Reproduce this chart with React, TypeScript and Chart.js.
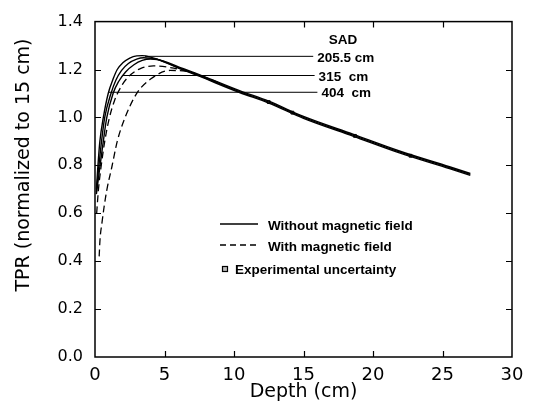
import React, { useEffect, useRef } from "react";
import { Chart, registerables } from "chart.js";

Chart.register(...registerables);

// ---- Data ----
// Without magnetic field (solid)
const depthSolidA = [0.1, 0.2, 0.35, 0.6, 0.95, 1.3, 1.6, 2.0, 2.5, 3.0, 3.4, 4.0, 5.0, 6.0, 7.5, 10.4, 12.5, 15, 18.6, 21.9, 25.5, 27.0];
const tprSolidA = [0.70, 0.79, 0.90, 1.00, 1.10, 1.16, 1.20, 1.228, 1.248, 1.257, 1.258, 1.252, 1.232, 1.208, 1.175, 1.108, 1.064, 1.0, 0.925, 0.856, 0.79, 0.762];
const depthSolidB = [0.1, 0.25, 0.45, 0.7, 1.15, 1.5, 1.9, 2.4, 3.0, 3.5, 4.0, 5.0, 6.0, 7.5, 10.4, 12.5, 15, 18.6, 21.9, 25.5, 27.0];
const tprSolidB = [0.69, 0.78, 0.89, 1.00, 1.10, 1.155, 1.195, 1.225, 1.243, 1.249, 1.247, 1.234, 1.211, 1.179, 1.112, 1.068, 1.004, 0.929, 0.860, 0.794, 0.766];
const depthSolidC = [0.1, 0.3, 0.55, 0.85, 1.3, 1.7, 2.2, 2.8, 3.4, 4.0, 4.5, 5.0, 6.0, 7.5, 10.4, 12.5, 15, 18.6, 21.9, 25.5, 27.0];
const tprSolidC = [0.68, 0.77, 0.88, 1.00, 1.10, 1.15, 1.19, 1.22, 1.238, 1.244, 1.242, 1.231, 1.206, 1.172, 1.104, 1.060, 0.996, 0.921, 0.852, 0.786, 0.758];
// With magnetic field (dashed)
const depthDashed1 = [0.3, 0.36, 0.5, 0.65, 0.86, 1.2, 1.6, 2.1, 3.0, 4.0, 5.4, 6.5, 7.5, 9.0];
const tprDashed1 = [0.42, 0.49, 0.56, 0.625, 0.70, 0.79, 0.90, 0.99, 1.10, 1.16, 1.196, 1.193, 1.176, 1.143];
const depthDashed2 = [0.12, 0.25, 0.45, 0.7, 1.0, 1.4, 2.0, 2.6, 3.3, 4.2, 5.2, 6.5, 7.5];
const tprDashed2 = [0.60, 0.70, 0.80, 0.90, 0.99, 1.07, 1.14, 1.18, 1.205, 1.215, 1.21, 1.195, 1.176];
// Experimental uncertainty boxes
const depthExp = [12.5, 14.2, 18.7, 22.7];
const tprExp = [1.064, 1.02, 0.923, 0.84];
// SAD leader lines
const sadLabels = ["205.5 cm", "315  cm", "404  cm"];
const sadLevels = [1.255, 1.175, 1.105];
const sadStart = [3.6, 2.0, 0.95];
const sadEnd = [15.7, 15.8, 16.0];
// Ticks
const xTickLabels = ["0", "5", "10", "15", "20", "25", "30"];
const yTickLabels = ["0.0", "0.2", "0.4", "0.6", "0.8", "1.0", "1.2", "1.4"];
const xTickValues = [5, 10, 15, 20, 25];
const yTickValues = [0.2, 0.4, 0.6, 0.8, 1.0, 1.2];
const legendLabels = ["Without magnetic field", "With magnetic field", "Experimental uncertainty"];

const pts = (xs: number[], ys: number[]) => xs.map((x, i) => ({ x, y: ys[i] }));

const AXIS_FONT = "'DejaVu Sans', sans-serif";
const LABEL_FONT = "'Liberation Sans', Arial, sans-serif";

const overlayPlugin = {
  id: "overlay",
  afterDraw(chart: any) {
    const { ctx, chartArea, scales } = chart;
    const xs = scales.x;
    const ys = scales.y;
    ctx.save();
    ctx.strokeStyle = "#000";
    ctx.fillStyle = "#000";
    // frame
    ctx.lineWidth = 1.5;
    ctx.strokeRect(chartArea.left, chartArea.top, chartArea.right - chartArea.left, chartArea.bottom - chartArea.top);
    // inward ticks on all four sides
    ctx.lineWidth = 1.2;
    const tl = 6;
    ctx.beginPath();
    xTickValues.forEach((v) => {
      const px = Math.round(xs.getPixelForValue(v)) + 0.5;
      ctx.moveTo(px, chartArea.bottom);
      ctx.lineTo(px, chartArea.bottom - tl);
      ctx.moveTo(px, chartArea.top);
      ctx.lineTo(px, chartArea.top + tl);
    });
    yTickValues.forEach((v) => {
      const py = Math.round(ys.getPixelForValue(v)) + 0.5;
      ctx.moveTo(chartArea.left, py);
      ctx.lineTo(chartArea.left + tl, py);
      ctx.moveTo(chartArea.right, py);
      ctx.lineTo(chartArea.right - tl, py);
    });
    ctx.stroke();

    // y axis title
    ctx.save();
    ctx.translate(24, 165);
    ctx.rotate(-Math.PI / 2);
    ctx.font = `19px ${AXIS_FONT}`;
    ctx.textAlign = "center";
    ctx.textBaseline = "middle";
    ctx.fillText("TPR (normalized to 15 cm)", 0, 0);
    ctx.restore();

    // SAD labels
    ctx.font = `bold 13.5px ${LABEL_FONT}`;
    ctx.textBaseline = "middle";
    ctx.textAlign = "center";
    ctx.fillText("SAD", 343, 40);
    ctx.textAlign = "left";
    sadLabels.forEach((lab, i) => {
      const py = ys.getPixelForValue(sadLevels[i]);
      const px = xs.getPixelForValue(sadEnd[i]) + 4;
      ctx.fillText(lab, px, py + 1.5);
    });

    // legend
    ctx.lineWidth = 1.5;
    ctx.beginPath();
    ctx.moveTo(220, 224);
    ctx.lineTo(258, 224);
    ctx.stroke();
    ctx.setLineDash([6, 4]);
    ctx.beginPath();
    ctx.moveTo(220, 245);
    ctx.lineTo(258, 245);
    ctx.stroke();
    ctx.setLineDash([]);
    ctx.lineWidth = 1.2;
    ctx.fillStyle = "#bbb";
    ctx.fillRect(222.5, 266.5, 5, 5);
    ctx.strokeRect(222.5, 266.5, 5, 5);
    ctx.fillStyle = "#000";
    ctx.fillText(legendLabels[0], 268, 226);
    ctx.fillText(legendLabels[1], 268, 247);
    ctx.fillText(legendLabels[2], 235, 270);
    ctx.restore();
  },
};

export default function App() {
  const canvasRef = useRef<HTMLCanvasElement | null>(null);

  useEffect(() => {
    const canvas = canvasRef.current;
    if (!canvas) return;
    const solid = (xs: number[], ys: number[]) => ({
      data: pts(xs, ys),
      showLine: true,
      borderColor: "#000",
      borderWidth: 1.4,
      pointRadius: 0,
      cubicInterpolationMode: "monotone" as const,
      fill: false,
    });
    const dashed = (xs: number[], ys: number[]) => ({
      ...solid(xs, ys),
      borderDash: [7, 4],
      borderWidth: 1.3,
    });
    const leaders = sadLevels.map((lv, i) => ({
      data: [
        { x: sadStart[i], y: lv },
        { x: sadEnd[i], y: lv },
      ],
      showLine: true,
      borderColor: "#000",
      borderWidth: 1,
      pointRadius: 0,
      fill: false,
    }));
    const chart = new Chart(canvas, {
      type: "scatter",
      data: {
        datasets: [
          solid(depthSolidA, tprSolidA),
          solid(depthSolidB, tprSolidB),
          solid(depthSolidC, tprSolidC),
          dashed(depthDashed1, tprDashed1),
          dashed(depthDashed2, tprDashed2),
          ...leaders,
          {
            data: pts(depthExp, tprExp),
            showLine: false,
            pointStyle: "rect",
            pointRadius: 2,
            pointBackgroundColor: "#fff",
            pointBorderColor: "#000",
            pointBorderWidth: 1,
          },
        ],
      },
      options: {
        responsive: false,
        animation: false,
        devicePixelRatio: 1,
        layout: { padding: { top: 21, right: 21, left: 0, bottom: 0 } },
        plugins: { legend: { display: false }, tooltip: { enabled: false } },
        scales: {
          x: {
            type: "linear",
            min: 0,
            max: 30,
            afterFit: (s: any) => {
              s.height = 46;
            },
            grid: { display: false, drawTicks: false },
            border: { display: false },
            ticks: {
              stepSize: 5,
              padding: 8,
              color: "#000",
              font: { family: AXIS_FONT, size: 18 },
              maxRotation: 0,
              callback: (_v: any, i: number) => xTickLabels[i],
            },
            title: {
              display: true,
              text: "Depth (cm)",
              color: "#000",
              font: { family: AXIS_FONT, size: 19 },
              padding: { top: 0, bottom: 0 },
            },
          },
          y: {
            type: "linear",
            min: 0,
            max: 1.4,
            afterFit: (s: any) => {
              s.width = 95;
            },
            grid: { display: false, drawTicks: false },
            border: { display: false },
            ticks: {
              stepSize: 0.2,
              padding: 12,
              color: "#000",
              font: { family: AXIS_FONT, size: 16 },
              callback: (_v: any, i: number) => yTickLabels[i],
            },
          },
        },
      },
      plugins: [overlayPlugin],
    });
    return () => chart.destroy();
  }, []);

  return (
    <div style={{ position: "fixed", left: 0, top: 0, width: 533, height: 403, background: "#fff" }}>
      <canvas ref={canvasRef} width={533} height={403} style={{ width: 533, height: 403, display: "block" }} />
    </div>
  );
}
